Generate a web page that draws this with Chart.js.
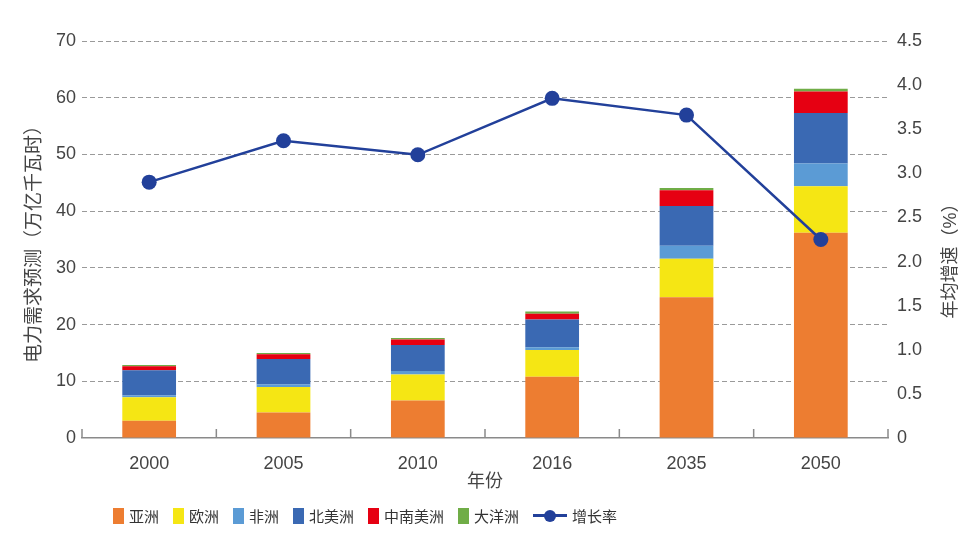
<!DOCTYPE html>
<html>
<head>
<meta charset="utf-8">
<script src="https://cdn.jsdelivr.net/npm/chart.js@4.4.1/dist/chart.umd.min.js"></script>
<style>
  html, body { margin: 0; padding: 0; background: #fff; }
  #wrap { position: relative; width: 980px; height: 546px; }
  #legend { position: absolute; left: 113px; top: 505px; display: flex; align-items: center; gap: 14px;
            font-family: 'Liberation Sans', 'Noto Sans CJK SC', sans-serif; font-size: 15px; color: #333; }
  .item { display: flex; align-items: center; gap: 5px; white-space: nowrap; }
  .box { width: 11px; height: 16px; }
  .lineMark { position: relative; width: 34px; height: 16px; }
  .lineMark .l { position: absolute; left: 0; right: 0; top: 6.5px; height: 3px; }
  .lineMark .d { position: absolute; left: 11px; top: 2px; width: 12px; height: 12px; border-radius: 50%; }
</style>
</head>
<body>
<div id="wrap">
  <canvas id="c"></canvas>
  <div id="legend"></div>
</div>
<script>
const years = ['2000', '2005', '2010', '2016', '2035', '2050'];
const asia = [3.05, 4.5, 6.6, 10.8, 24.8, 36.2];
const europe = [4.15, 4.5, 4.6, 4.7, 6.8, 8.2];
const africa = [0.3, 0.45, 0.6, 0.5, 2.3, 4.0];
const northAmerica = [4.45, 4.5, 4.6, 4.9, 7.0, 8.9];
const latinAmerica = [0.7, 0.8, 0.95, 1.0, 2.8, 3.8];
const oceania = [0.2, 0.25, 0.3, 0.4, 0.4, 0.5];
const growthRate = [2.9, 3.37, 3.21, 3.85, 3.66, 2.25];

const leftTitle = '电力需求预测（万亿千瓦时）';
const rightTitle = '年均增速（%）';
const xTitle = '年份';

const seriesNames = ['亚洲', '欧洲', '非洲', '北美洲', '中南美洲', '大洋洲'];
const seriesData = [asia, europe, africa, northAmerica, latinAmerica, oceania];
const seriesColors = ['#ED7D31', '#F5E614', '#5B9BD5', '#3A69B3', '#E60012', '#70AD47'];
const lineName = '增长率';
const lineColor = '#22409A';

const FONT = "'Liberation Sans', 'Noto Sans CJK SC', sans-serif";

const datasets = seriesNames.map((n, i) => ({
  type: 'bar', label: n, data: seriesData[i], backgroundColor: seriesColors[i],
  borderWidth: 0, yAxisID: 'y', order: 1, stack: 's',
  categoryPercentage: 0.8, barPercentage: 0.5
}));
datasets.push({
  type: 'line', label: lineName, data: growthRate, yAxisID: 'y1', order: 0,
  borderColor: lineColor, backgroundColor: lineColor, borderWidth: 2.5,
  pointRadius: 7.5, pointBackgroundColor: lineColor, pointBorderWidth: 0, tension: 0
});

const extras = {
  id: 'extras',
  afterDraw(chart) {
    const ctx = chart.ctx;
    const xs = chart.scales.x;
    const area = chart.chartArea;
    ctx.save();
    ctx.strokeStyle = '#8a8a8a';
    ctx.lineWidth = 1.5;
    for (let i = 0; i <= years.length; i++) {
      const x = xs.getPixelForValue(i - 0.5);
      ctx.beginPath();
      ctx.moveTo(x, area.bottom);
      ctx.lineTo(x, area.bottom - 9);
      ctx.stroke();
    }
    ctx.restore();
    ctx.save();
    ctx.fillStyle = '#444';
    ctx.font = '18px ' + FONT;
    ctx.textAlign = 'center';
    ctx.textBaseline = 'middle';
    ctx.translate(951, (area.top + area.bottom) / 2 + 17);
    ctx.rotate(-Math.PI / 2);
    ctx.fillText(rightTitle, 0, 0);
    ctx.restore();
  }
};

new Chart(document.getElementById('c'), {
  data: { labels: years, datasets },
  options: {
    responsive: true, maintainAspectRatio: false, animation: false,
    layout: { padding: { top: 41, left: 0, right: 0, bottom: 53 } },
    plugins: { legend: { display: false }, tooltip: { enabled: false } },
    scales: {
      x: {
        stacked: true, offset: true,
        grid: { display: false },
        border: { display: true, color: '#8a8a8a', width: 1.5 },
        ticks: { color: '#444', font: { family: FONT, size: 18 }, padding: 7 },
        title: { display: true, text: xTitle, color: '#444', font: { family: FONT, size: 18 }, padding: { top: 0, bottom: 0 } },
        afterFit(s) { s.height = 55; }
      },
      y: {
        position: 'left', stacked: true, min: 0, max: 70,
        ticks: { stepSize: 10, color: '#444', font: { family: FONT, size: 18 }, padding: 6 },
        grid: { drawTicks: false, lineWidth: 1, color: (c) => c.tick && c.tick.value === 0 ? 'rgba(0,0,0,0)' : '#9a9a9a' },
        border: { display: false, dash: [5, 3] },
        title: { display: true, text: leftTitle, color: '#444', font: { family: FONT, size: 19 }, padding: { top: 23, bottom: 0 } },
        afterFit(s) { s.width = 82; }
      },
      y1: {
        position: 'right', min: 0, max: 4.5,
        ticks: { stepSize: 0.5, color: '#444', font: { family: FONT, size: 18 }, padding: 9,
                 callback: (v) => v === 0 ? '0' : Number(v).toFixed(1) },
        grid: { display: false, drawTicks: false },
        border: { display: false },
        afterFit(s) { s.width = 92; }
      }
    }
  },
  plugins: [extras]
});

const legend = document.getElementById('legend');
seriesNames.forEach((n, i) => {
  const it = document.createElement('div'); it.className = 'item';
  const b = document.createElement('span'); b.className = 'box'; b.style.background = seriesColors[i];
  const t = document.createElement('span'); t.textContent = n;
  it.appendChild(b); it.appendChild(t); legend.appendChild(it);
});
(function () {
  const it = document.createElement('div'); it.className = 'item';
  const m = document.createElement('span'); m.className = 'lineMark';
  const l = document.createElement('span'); l.className = 'l'; l.style.background = lineColor;
  const d = document.createElement('span'); d.className = 'd'; d.style.background = lineColor;
  m.appendChild(l); m.appendChild(d);
  const t = document.createElement('span'); t.textContent = lineName;
  it.appendChild(m); it.appendChild(t); legend.appendChild(it);
})();
</script>
</body>
</html>
